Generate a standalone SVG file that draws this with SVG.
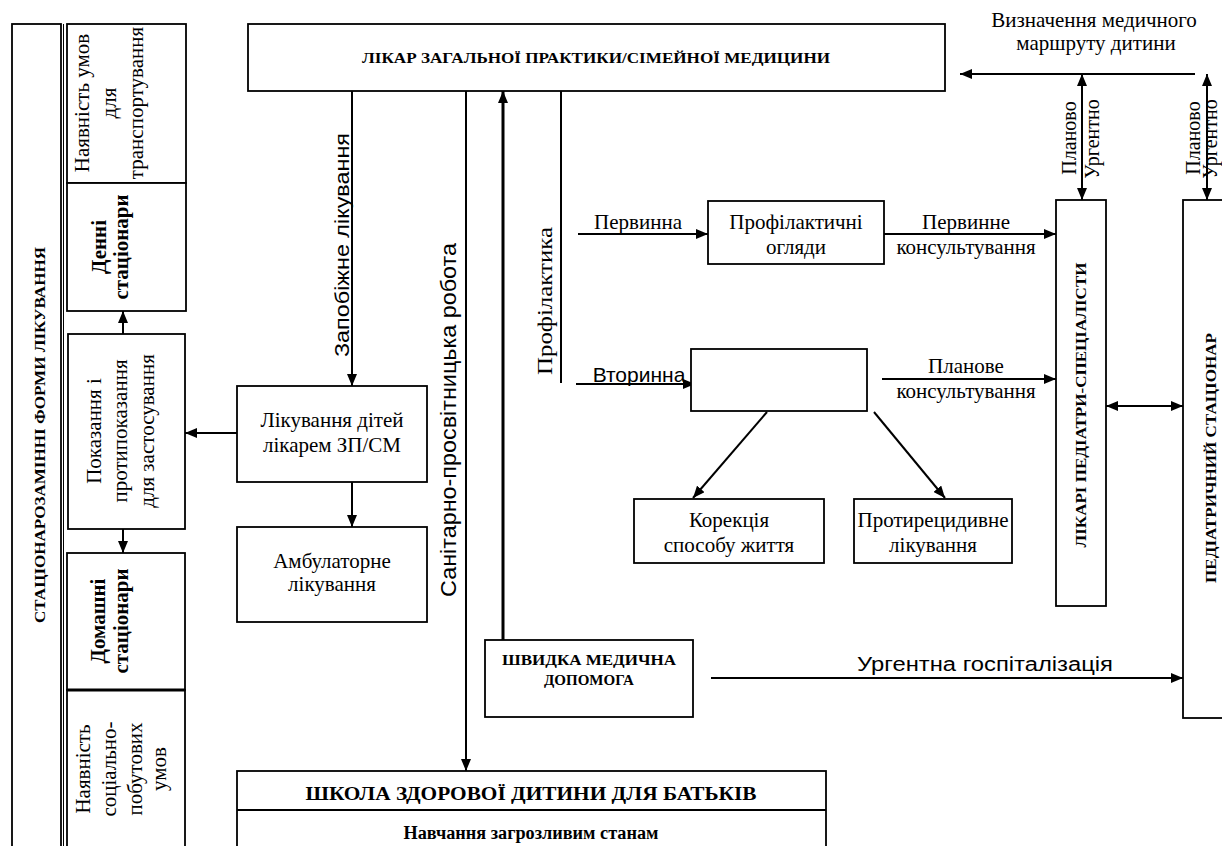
<svg xmlns="http://www.w3.org/2000/svg" width="1222" height="846" viewBox="0 0 1222 846">
<defs>
<marker id="ah" viewBox="0 0 12 10" refX="12" refY="5" markerWidth="12" markerHeight="10" markerUnits="userSpaceOnUse" orient="auto-start-reverse"><path d="M0,0 L12,5 L0,10 z" fill="#000"/></marker>
<style>
.box{fill:#fff;stroke:#000;stroke-width:1.8}
.ln{fill:none;stroke:#000;stroke-width:2}
.ar{fill:none;stroke:#000;stroke-width:2;marker-end:url(#ah)}
.dar{fill:none;stroke:#000;stroke-width:2;marker-end:url(#ah);marker-start:url(#ah)}
.t{font-family:"Liberation Serif","Times New Roman",serif;font-size:21px;fill:#000;text-anchor:middle}
.b{font-family:"Liberation Serif","Times New Roman",serif;font-weight:bold;fill:#000;text-anchor:middle}
.s{font-family:"Liberation Sans",Arial,sans-serif;fill:#000;text-anchor:middle}
</style>
</defs>
<rect width="1222" height="846" fill="#fff"/>

<g id="connectors">
<path class="ar" d="M352,91 V386"/>
<path class="ar" d="M466,91 V771"/>
<path class="ar" d="M503,640 V91" style="stroke-width:3"/>
<path class="ln" d="M561,91 V383"/>
<path class="ar" d="M578,234 H708"/>
<path class="ar" d="M576,384 H695"/>
<path class="ar" d="M884,234 H1056"/>
<path class="ar" d="M882,379 H1056"/>
<path class="ar" d="M767,412 L693,498"/>
<path class="ar" d="M874,412 L945,498"/>
<path class="ar" d="M237,433 H185"/>
<path class="ar" d="M352,482 V527"/>
<path class="ar" d="M123,334 V311"/>
<path class="ar" d="M123,529 V553"/>
<path class="ar" d="M1195,74 H960"/>
<path class="dar" d="M1082,74 V200"/>
<path class="dar" d="M1207,74 V200"/>
<path class="dar" d="M1106,406 H1183"/>
<path class="ar" d="M711,678 H1183"/>
</g>

<g id="label-zapobizhne"><text class="s" font-size="21" transform="translate(349,245) rotate(-90)" textLength="224" lengthAdjust="spacingAndGlyphs">Запобіжне лікування</text></g>
<g id="label-sanitarno"><text class="s" font-size="22" transform="translate(456,420) rotate(-90)" textLength="354" lengthAdjust="spacingAndGlyphs">Санітарно-просвітницька робота</text></g>
<g id="label-profilaktyka"><text class="t" style="font-size:22px" transform="translate(552,301) rotate(-90)" textLength="148" lengthAdjust="spacingAndGlyphs">Профілактика</text></g>
<g id="label-pervynna"><text class="t" x="638" y="229">Первинна</text></g>
<g id="label-vtorynna"><text class="s" font-size="21" x="639" y="382">Вторинна</text></g>
<g id="label-pervynne"><text class="t" x="966" y="229">Первинне</text><text class="t" x="966" y="254">консультування</text></g>
<g id="label-planove"><text class="t" x="966" y="373">Планове</text><text class="t" x="966" y="398">консультування</text></g>
<g id="label-vyznachennia"><text class="t" x="1094" y="27">Визначення медичного</text><text class="t" x="1096" y="50">маршруту дитини</text></g>
<g id="label-planovo1"><text class="t" style="font-size:20px" transform="translate(1076,138) rotate(-90)">Планово</text><text class="t" style="font-size:20px" transform="translate(1099,139) rotate(-90)">Ургентно</text></g>
<g id="label-planovo2"><text class="t" style="font-size:20px" transform="translate(1200,138) rotate(-90)">Планово</text><text class="t" style="font-size:20px" transform="translate(1217,139) rotate(-90)">Ургентно</text></g>
<g id="label-urgentna"><text class="s" font-size="20" x="985" y="671" textLength="256" lengthAdjust="spacingAndGlyphs">Ургентна госпіталізація</text></g>

<g id="node-likar-zp">
<rect class="box" x="248" y="24" width="697" height="67"/>
<text class="b" font-size="14" x="596" y="63" textLength="468" lengthAdjust="spacingAndGlyphs">ЛІКАР ЗАГАЛЬНОЇ ПРАКТИКИ/СІМЕЙНОЇ МЕДИЦИНИ</text>
</g>

<g id="node-stats-outer">
<rect class="box" x="12" y="24" width="49" height="840"/>
<line x1="63.5" y1="24" x2="63.5" y2="846" stroke="#000" stroke-width="1"/>
<text class="b" font-size="15" transform="translate(45,435) rotate(-90)" textLength="376" lengthAdjust="spacingAndGlyphs">СТАЦІОНАРОЗАМІННІ ФОРМИ ЛІКУВАННЯ</text>
</g>

<g id="node-transport">
<rect class="box" x="67" y="24" width="119" height="159"/>
<g transform="translate(0,103) rotate(-90)">
<text class="t" x="0" y="89">Наявність умов</text>
<text class="t" x="0" y="116">для</text>
<text class="t" x="0" y="143">транспортування</text>
</g>
</g>

<g id="node-denni">
<rect class="box" x="67" y="183" width="119" height="128"/>
<g transform="translate(0,247) rotate(-90)">
<text class="b" font-size="21" x="0" y="106">Денні</text>
<text class="b" font-size="21" x="0" y="128">стаціонари</text>
</g>
</g>

<g id="node-pokazannia">
<rect class="box" x="68" y="334" width="117" height="195"/>
<g transform="translate(0,431) rotate(-90)">
<text class="t" x="0" y="101">Показання і</text>
<text class="t" x="0" y="127">протипоказання</text>
<text class="t" x="0" y="154">для застосування</text>
</g>
</g>

<g id="node-domashni">
<rect class="box" x="67" y="553" width="118" height="137"/>
<g transform="translate(0,621) rotate(-90)">
<text class="b" font-size="21" x="0" y="105">Домашні</text>
<text class="b" font-size="21" x="0" y="128">стаціонари</text>
</g>
</g>

<g id="node-sotsialno">
<rect class="box" x="67" y="690" width="118" height="180"/>
<line x1="67" y1="690" x2="185" y2="690" stroke="#000" stroke-width="3"/>
<g transform="translate(0,769) rotate(-90)">
<text class="t" x="0" y="90">Наявність</text>
<text class="t" x="0" y="116">соціально-</text>
<text class="t" x="0" y="142">побутових</text>
<text class="t" x="0" y="166">умов</text>
</g>
</g>

<g id="node-likuvannia">
<rect class="box" x="237" y="386" width="190" height="96"/>
<text class="t" x="332" y="427">Лікування дітей</text>
<text class="t" x="332" y="452">лікарем ЗП/СМ</text>
</g>

<g id="node-ambulatorne">
<rect class="box" x="237" y="527" width="190" height="95"/>
<text class="t" x="332" y="568">Амбулаторне</text>
<text class="t" x="332" y="591">лікування</text>
</g>

<g id="node-shvydka">
<rect class="box" x="485" y="640" width="208" height="77"/>
<text class="b" font-size="15" x="589" y="665" textLength="174" lengthAdjust="spacingAndGlyphs">ШВИДКА МЕДИЧНА</text>
<text class="b" font-size="15" x="589" y="685">ДОПОМОГА</text>
</g>

<g id="node-shkola">
<rect class="box" x="237" y="771" width="589" height="100"/>
<line x1="237" y1="810" x2="826" y2="810" stroke="#000" stroke-width="1.8"/>
<text class="b" font-size="18" x="531" y="800" textLength="451" lengthAdjust="spacingAndGlyphs">ШКОЛА ЗДОРОВОЇ ДИТИНИ ДЛЯ БАТЬКІВ</text>
<text class="b" font-size="18" x="531" y="839" textLength="255" lengthAdjust="spacingAndGlyphs">Навчання загрозливим станам</text>
</g>

<g id="node-profilaktychni">
<rect class="box" x="708" y="201" width="176" height="63"/>
<text class="t" x="796" y="229">Профілактичні</text>
<text class="t" x="796" y="254">огляди</text>
</g>

<g id="node-empty">
<rect class="box" x="691" y="349" width="176" height="62"/>
</g>

<g id="node-korektsiia">
<rect class="box" x="634" y="499" width="190" height="64"/>
<text class="t" x="729" y="527">Корекція</text>
<text class="t" x="729" y="552">способу життя</text>
</g>

<g id="node-protyretsydyvne">
<rect class="box" x="854" y="499" width="158" height="64"/>
<text class="t" x="933" y="527">Протирецидивне</text>
<text class="t" x="933" y="552">лікування</text>
</g>

<g id="node-likari-pediatry">
<rect class="box" x="1056" y="200" width="50" height="406"/>
<text class="b" font-size="14" transform="translate(1086,405) rotate(-90)" textLength="285" lengthAdjust="spacingAndGlyphs">ЛІКАРІ ПЕДІАТРИ-СПЕЦІАЛІСТИ</text>
</g>

<g id="node-pediatr-statsionar">
<rect class="box" x="1183" y="200" width="60" height="518"/>
<text class="b" font-size="14" transform="translate(1216,458) rotate(-90)" textLength="250" lengthAdjust="spacingAndGlyphs">ПЕДІАТРИЧНИЙ СТАЦІОНАР</text>
</g>
</svg>
